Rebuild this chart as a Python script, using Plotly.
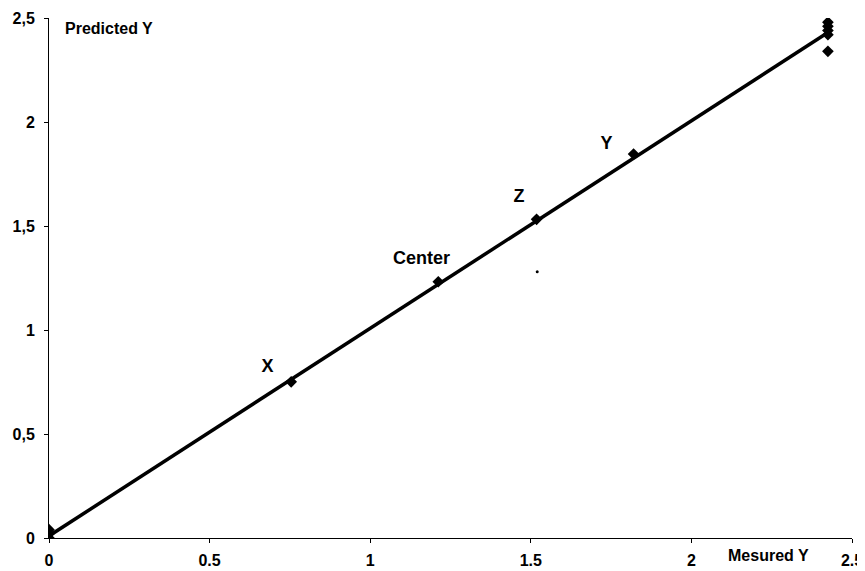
import plotly.graph_objects as go

# Data
measured = [0.0, 0.0, 0.0, 0.754, 1.212, 1.518, 1.82, 2.425, 2.425, 2.425, 2.425, 2.425]
predicted = [0.0, 0.02, 0.04, 0.751, 1.232, 1.532, 1.846, 2.48, 2.46, 2.44, 2.42, 2.34]

fit_x = [0.0, 2.425]
fit_y = [0.01, 2.43]

point_names = ["X", "Center", "Z", "Y"]
label_x = [0.68, 1.16, 1.463, 1.736]
label_y = [0.82, 1.34, 1.635, 1.89]

stray_x = [1.52]
stray_y = [1.28]

x_ticks = [0, 0.5, 1, 1.5, 2, 2.5]
x_ticktext = ["0", "0.5", "1", "1.5", "2", "2.5"]
y_ticks = [0, 0.5, 1, 1.5, 2, 2.5]
y_ticktext = ["0", "0,5", "1", "1,5", "2", "2,5"]

FONT = "Liberation Sans, Arial, sans-serif"

fig = go.Figure()
fig.add_trace(go.Scatter(x=fit_x, y=fit_y, mode="lines",
                         line=dict(color="black", width=3.5), hoverinfo="skip"))
fig.add_trace(go.Scatter(x=measured, y=predicted, mode="markers",
                         marker=dict(symbol="diamond", color="black", size=9)))
fig.add_trace(go.Scatter(x=stray_x, y=stray_y, mode="markers",
                         marker=dict(symbol="circle", color="black", size=3)))
fig.add_trace(go.Scatter(x=label_x, y=label_y, mode="text", text=point_names,
                         textfont=dict(family=FONT, size=18, color="black", weight="bold"),
                         textposition="middle center"))

fig.add_annotation(x=0.045, y=2.45, xref="x", yref="y", text="Predicted Y",
                   showarrow=False, xanchor="left", yanchor="middle",
                   font=dict(family=FONT, size=16, color="black", weight="bold"))
fig.add_annotation(x=2.24, y=0, xref="x", yref="paper", yshift=-17, text="Mesured Y",
                   showarrow=False, xanchor="center", yanchor="middle",
                   font=dict(family=FONT, size=16, color="black", weight="bold"))

axis_common = dict(showgrid=False, zeroline=False, showline=True, linecolor="black",
                   linewidth=1, ticks="outside", ticklen=4, tickcolor="black",
                   automargin=False, ticklabeloverflow="allow",
                   tickfont=dict(family=FONT, size=16, color="black", weight="bold"))

fig.update_xaxes(range=[0, 2.5], tickmode="array", tickvals=x_ticks, ticktext=x_ticktext,
                 ticklabelstandoff=4, **axis_common)
fig.update_yaxes(range=[0, 2.5], tickmode="array", tickvals=y_ticks, ticktext=y_ticktext,
                 ticklabelstandoff=6, **axis_common)

# the page body adds an 8px offset, so the figure is sized to fit the window
fig.update_layout(width=857, height=563, showlegend=False,
                  margin=dict(l=41, r=13, t=10, b=33),
                  plot_bgcolor="white", paper_bgcolor="white")

fig.write_html("out.html")
